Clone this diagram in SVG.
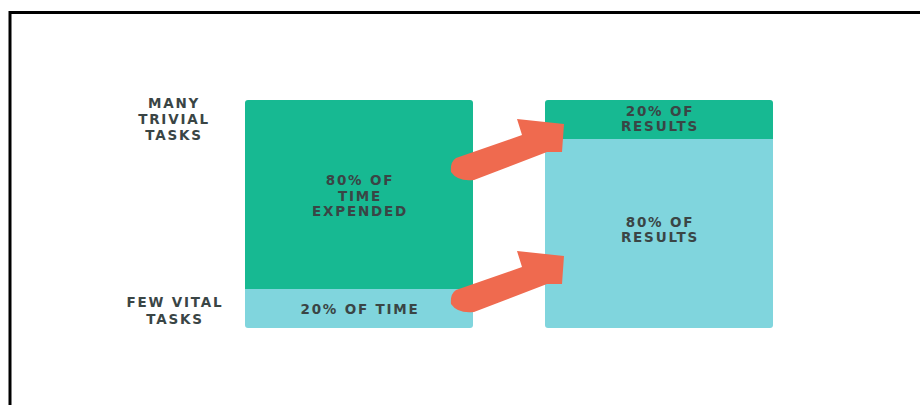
<svg xmlns="http://www.w3.org/2000/svg" width="920" height="405" viewBox="0 0 920 405">
  <style>
    .lbl { font-family: "DejaVu Sans", "Liberation Sans", sans-serif; font-size: 13.5px; font-weight: bold; letter-spacing: 1.8px; fill: #3a4545; text-anchor: middle; }
    .dark { fill: #17b992; }
    .light { fill: #80d5dd; }
    .arrow { fill: #ef6a4f; }
    .frame { fill: none; stroke: #000; stroke-width: 3; }
  </style>
  <defs>
    <!-- block arrow, drawn with its tail near the origin -->
    <path id="blockArrow" d="M6,-10 L72,-33 L67,-49 L114,-44 L112,-16 L97,-16 L24,12 Q8,14 1,4 Q0,-6 6,-10 Z"/>
  </defs>
  <rect width="920" height="405" fill="#fff"/>
  <!-- outer frame (top and left edges) -->
  <path class="frame" d="M10,405 V12.5 H920"/>

  <!-- side labels -->
  <g id="label-many">
    <text class="lbl" x="174" y="108">MANY</text>
    <text class="lbl" x="174" y="124">TRIVIAL</text>
    <text class="lbl" x="174" y="140">TASKS</text>
  </g>
  <g id="label-few">
    <text class="lbl" x="175" y="307">FEW VITAL</text>
    <text class="lbl" x="175" y="324">TASKS</text>
  </g>

  <!-- time column -->
  <g id="time-80">
    <path class="dark" d="M248,100 H470 Q473,100 473,103 V289 H245 V103 Q245,100 248,100 Z"/>
    <text class="lbl" x="360" y="185">80% OF</text>
    <text class="lbl" x="360" y="201">TIME</text>
    <text class="lbl" x="360" y="216">EXPENDED</text>
  </g>
  <g id="time-20">
    <path class="light" d="M245,289 H473 V325 Q473,328 470,328 H248 Q245,328 245,325 Z"/>
    <text class="lbl" x="360" y="314">20% OF TIME</text>
  </g>

  <!-- results column -->
  <g id="results-20">
    <path class="dark" d="M548,100 H770 Q773,100 773,103 V139 H545 V103 Q545,100 548,100 Z"/>
    <text class="lbl" x="660" y="116">20% OF</text>
    <text class="lbl" x="660" y="131">RESULTS</text>
  </g>
  <g id="results-80">
    <path class="light" d="M545,139 H773 V325 Q773,328 770,328 H548 Q545,328 545,325 Z"/>
    <text class="lbl" x="660" y="227">80% OF</text>
    <text class="lbl" x="660" y="242">RESULTS</text>
  </g>

  <!-- connectors -->
  <g id="connectors">
    <use href="#blockArrow" class="arrow" transform="translate(450,168)"/>
    <use href="#blockArrow" class="arrow" transform="translate(450,300)"/>
  </g>
</svg>
